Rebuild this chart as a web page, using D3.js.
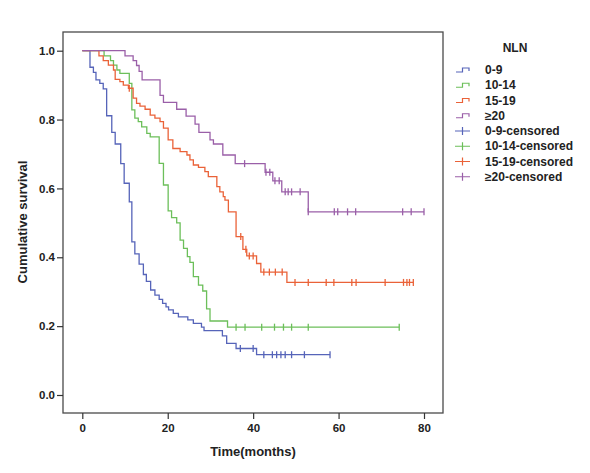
<!DOCTYPE html>
<html><head><meta charset="utf-8">
<script src="https://cdn.jsdelivr.net/npm/d3@7"></script>
<style>html,body{margin:0;padding:0;background:#fff;}svg{display:block;}</style>
</head><body>
<svg id="chart" width="590" height="473"></svg>
<script>
// ---------- DATA ----------
const groups = ["0-9", "10-14", "15-19", "\u226520"];
const legendLabels = ["0-9", "10-14", "15-19", "\u226520",
  "0-9-censored", "10-14-censored", "15-19-censored", "\u226520-censored"];
const colors = ["#5664b9", "#6cbf5a", "#ea6238", "#9a5fa8"];

// event times (months) and survival after each event
const times09 = [1.8, 2.6, 3.2, 4.1, 4.9, 5.7, 6.9, 7.7, 9.0, 9.8, 11.0, 11.6, 12.3, 13.3, 14.3, 15.0, 16.0, 17.0, 18.0, 18.8, 19.6, 20.2, 21.3, 22.5, 24.7, 26.0, 27.9, 28.5, 32.8, 33.8, 36.0, 40.8];
const surv09  = [0.952, 0.937, 0.915, 0.905, 0.889, 0.811, 0.763, 0.729, 0.672, 0.615, 0.561, 0.445, 0.41, 0.38, 0.35, 0.33, 0.305, 0.29, 0.278, 0.266, 0.256, 0.247, 0.237, 0.227, 0.218, 0.208, 0.197, 0.187, 0.172, 0.15, 0.135, 0.117];
const cens09  = [37.0, 40.0, 42.5, 44.5, 45.5, 46.5, 47.5, 49.0, 52.0, 58.0];

const times1014 = [5.1, 6.6, 7.3, 8.1, 8.8, 11.0, 11.6, 12.3, 13.1, 13.9, 15.1, 15.9, 18.0, 19.0, 20.1, 20.9, 22.1, 22.9, 23.7, 24.6, 25.2, 26.0, 27.2, 28.2, 29.1, 29.9, 34.0];
const surv1014  = [0.985, 0.971, 0.958, 0.944, 0.934, 0.905, 0.828, 0.804, 0.794, 0.779, 0.76, 0.75, 0.673, 0.61, 0.535, 0.515, 0.5, 0.45, 0.426, 0.402, 0.385, 0.344, 0.319, 0.302, 0.25, 0.215, 0.197];
const cens1014  = [36.0, 38.1, 42.0, 45.0, 47.1, 49.0, 52.9, 74.2];

const times1519 = [3.9, 4.9, 6.1, 7.3, 7.7, 8.8, 9.6, 10.8, 11.9, 12.7, 13.5, 14.7, 15.9, 17.0, 18.2, 19.0, 20.1, 21.2, 22.9, 24.5, 25.2, 26.0, 27.2, 28.7, 29.5, 31.5, 32.2, 33.0, 33.4, 34.2, 36.0, 37.6, 38.5, 40.8, 41.8, 47.9];
const surv1519  = [0.985, 0.971, 0.958, 0.944, 0.917, 0.91, 0.9, 0.891, 0.862, 0.847, 0.839, 0.83, 0.813, 0.804, 0.794, 0.775, 0.741, 0.716, 0.707, 0.697, 0.683, 0.668, 0.661, 0.649, 0.634, 0.605, 0.59, 0.576, 0.566, 0.532, 0.46, 0.423, 0.404, 0.382, 0.357, 0.327];
const cens1519  = [11.0, 37.1, 38.3, 39.1, 40.0, 42.5, 43.8, 45.2, 46.8, 49.8, 52.9, 57.1, 58.9, 63.1, 64.1, 70.9, 75.2, 76.0, 76.6, 77.5];

const times20 = [10.0, 11.9, 12.7, 13.3, 14.0, 18.2, 19.0, 22.1, 24.3, 26.4, 27.3, 29.9, 30.7, 32.9, 35.8, 42.8, 44.6, 46.7, 52.9];
const surv20  = [0.985, 0.971, 0.957, 0.94, 0.915, 0.87, 0.85, 0.83, 0.81, 0.787, 0.763, 0.741, 0.729, 0.697, 0.672, 0.647, 0.622, 0.59, 0.532];
const cens20  = [38.0, 43.0, 43.9, 45.1, 46.1, 47.5, 48.2, 49.0, 51.0, 52.9, 59.0, 59.8, 62.1, 64.0, 75.0, 77.0, 80.0];

const xTicks = [0, 20, 40, 60, 80];
const yTicks = [0.0, 0.2, 0.4, 0.6, 0.8, 1.0];

// ---------- CHART ----------
const series = [
  {t: times09, s: surv09, c: cens09},
  {t: times1014, s: surv1014, c: cens1014},
  {t: times1519, s: surv1519, c: cens1519},
  {t: times20, s: surv20, c: cens20}
];

const svg = d3.select("#chart");
const frame = {left: 63, right: 443, top: 32, bottom: 413};
const x = d3.scaleLinear().domain([0, 80]).range([82.3, 424]);
const y = d3.scaleLinear().domain([0, 1]).range([395, 50.7]);
const font = "'Liberation Sans', Arial, sans-serif";

// frame
svg.append("rect")
  .attr("x", frame.left).attr("y", frame.top)
  .attr("width", frame.right - frame.left).attr("height", frame.bottom - frame.top)
  .attr("fill", "none").attr("stroke", "#4a4a4a").attr("stroke-width", 1.3);

// axes
const xAxis = svg.append("g").attr("transform", `translate(0,${frame.bottom})`)
  .call(d3.axisBottom(x).tickValues(xTicks).tickFormat(d3.format("d")).tickSize(6).tickSizeOuter(0));
xAxis.select(".domain").remove();
xAxis.selectAll("line").attr("stroke", "#333").attr("stroke-width", 1.2);
xAxis.selectAll("text").attr("font-family", font).attr("font-size", 11.5).attr("font-weight", "bold")
  .attr("fill", "#222").attr("dy", "0.71em").attr("y", 11);

const yAxis = svg.append("g").attr("transform", `translate(${frame.left},0)`)
  .call(d3.axisLeft(y).tickValues(yTicks).tickFormat(d3.format(".1f")).tickSize(6).tickSizeOuter(0));
yAxis.select(".domain").remove();
yAxis.selectAll("line").attr("stroke", "#333").attr("stroke-width", 1.2);
yAxis.selectAll("text").attr("font-family", font).attr("font-size", 11.5).attr("font-weight", "bold")
  .attr("fill", "#222").attr("x", -8);

// axis titles
svg.append("text").attr("x", 253).attr("y", 456).attr("text-anchor", "middle")
  .attr("font-family", font).attr("font-size", 13).attr("font-weight", "bold").attr("fill", "#222")
  .text("Time(months)");
svg.append("text").attr("transform", "translate(27,222) rotate(-90)").attr("text-anchor", "middle")
  .attr("font-family", font).attr("font-size", 13).attr("font-weight", "bold").attr("fill", "#222")
  .text("Cumulative survival");

// survival step function
function survAt(ser, t) {
  let s = 1;
  for (let i = 0; i < ser.t.length; i++) { if (ser.t[i] <= t) s = ser.s[i]; }
  return s;
}

const line = d3.line().x(d => x(d[0])).y(d => y(d[1])).curve(d3.curveStepAfter);

series.forEach((ser, i) => {
  const pts = [[0, 1]];
  ser.t.forEach((t, j) => pts.push([t, ser.s[j]]));
  const tEnd = Math.max(d3.max(ser.c), d3.max(ser.t));
  pts.push([tEnd, ser.s[ser.s.length - 1]]);
  svg.append("path").attr("d", line(pts)).attr("fill", "none")
    .attr("stroke", colors[i]).attr("stroke-width", 1.3);
  svg.append("g").selectAll("line").data(ser.c).join("line")
    .attr("x1", d => x(d)).attr("x2", d => x(d))
    .attr("y1", d => y(survAt(ser, d)) - 3.5).attr("y2", d => y(survAt(ser, d)) + 3.5)
    .attr("stroke", colors[i]).attr("stroke-width", 1.3);
});

// legend
const lg = svg.append("g");
lg.append("text").attr("x", 515).attr("y", 52).attr("text-anchor", "middle")
  .attr("font-family", font).attr("font-size", 12).attr("font-weight", "bold").attr("fill", "#222")
  .text("NLN");
legendLabels.forEach((lab, i) => {
  const cy = 70 + i * 15.25;
  const col = colors[i % 4];
  if (i < 4) {
    lg.append("path").attr("d", `M456,${cy + 2}H462.5V${cy - 2}H469V${cy + 1}`)
      .attr("fill", "none").attr("stroke", col).attr("stroke-width", 1.2);
  } else {
    lg.append("path").attr("d", `M455,${cy}H470M462.5,${cy - 4}V${cy + 4}`)
      .attr("fill", "none").attr("stroke", col).attr("stroke-width", 1.2);
  }
  lg.append("text").attr("x", 485).attr("y", cy + 4)
    .attr("font-family", font).attr("font-size", 12).attr("font-weight", "bold").attr("fill", "#222")
    .text(lab);
});
</script>
</body></html>
